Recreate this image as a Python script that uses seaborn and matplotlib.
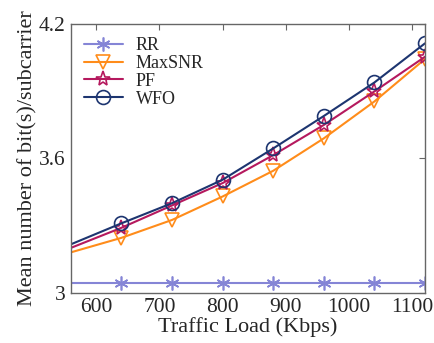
import pandas as pd
import matplotlib
matplotlib.use("Agg")
import matplotlib.pyplot as plt
import seaborn as sns

# traffic load (Kbps); first point has no marker (line starts at the axis edge)
load = [560, 640, 720, 800, 880, 960, 1040, 1120]
rr = [3.043, 3.043, 3.043, 3.043, 3.043, 3.043, 3.043, 3.043]
maxsnr = [3.18, 3.245, 3.325, 3.43, 3.545, 3.69, 3.855, 4.045]
pf = [3.20, 3.29, 3.39, 3.49, 3.615, 3.75, 3.90, 4.055]
wfo = [3.216, 3.31, 3.40, 3.505, 3.645, 3.79, 3.94, 4.115]

schemes = ["RR", "MaxSNR", "PF", "WFO"]
colors = ["#8585d6", "#ff8c1a", "#b5195e", "#1d3570"]
markers = [(6, 2, 0), "v", "*", "o"]

df = pd.DataFrame({
    "load": load * 4,
    "value": rr + maxsnr + pf + wfo,
    "scheme": [s for s in schemes for _ in load],
})

sns.set_style("white")
plt.rcParams["font.family"] = ["Liberation Serif", "DejaVu Serif"]

fig, ax = plt.subplots(figsize=(4.35, 3.43), dpi=100)
fig.subplots_adjust(left=0.163, right=0.977, top=0.929, bottom=0.147)

sns.lineplot(data=df, x="load", y="value", hue="scheme",
             hue_order=schemes, palette=dict(zip(schemes, colors)),
             markevery=list(range(1, len(load))), linewidth=1.5,
             legend=False, ax=ax)

# seaborn won't mix line-art and filled markers, so set them per line
sizes = [10, 10, 11, 10]
for line, c, m, ms in zip(ax.lines, colors, markers, sizes):
    line.set_marker(m)
    line.set_markerfacecolor("none")
    line.set_markeredgecolor(c)
    line.set_markeredgewidth(1.2)
    line.set_markersize(ms)

ax.legend(ax.lines[:4], schemes, loc="upper left", frameon=False,
          fontsize=13, handlelength=2.2, borderaxespad=0.3,
          labelspacing=0.05, handletextpad=0.7,
          bbox_to_anchor=(0.0, 1.0))

ax.set_xlim(560, 1120)
ax.set_ylim(3, 4.2)
ax.set_xticks([600, 700, 800, 900, 1000, 1100])
ax.set_yticks([3, 3.6, 4.2])
ax.set_yticklabels(["3", "3.6", "4.2"])
ax.tick_params(direction="in", top=True, right=True, length=4,
               color="#666666", labelsize=15.5, pad=4)
for sp in ax.spines.values():
    sp.set_color("#666666")
    sp.set_linewidth(1.0)

ax.set_xlabel("Traffic Load (Kbps)", fontsize=16, labelpad=0)
ax.set_ylabel("Mean number of bit(s)/subcarrier", fontsize=16, labelpad=1)

fig.savefig("out.png", dpi=100)
